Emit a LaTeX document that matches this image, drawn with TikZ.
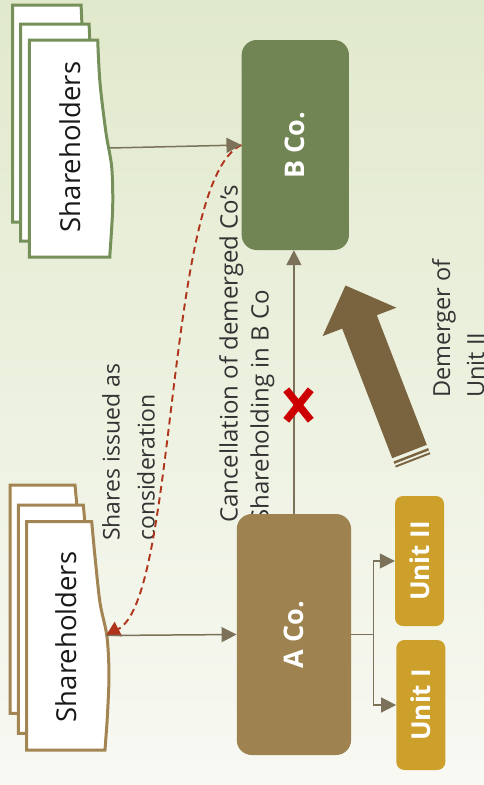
\documentclass[tikz,border=0pt]{standalone}
\usepackage{fontspec}
\setmainfont{Open Sans}
\usepackage{graphicx}
\usetikzlibrary{arrows.meta,shapes.misc}

\definecolor{bgtop}{HTML}{E1E9CC}
\definecolor{bgbot}{HTML}{F8F9F3}
\definecolor{bgreen}{HTML}{718554}
\definecolor{ggreen}{HTML}{76905A}
\definecolor{atan}{HTML}{9E8351}
\definecolor{ttan}{HTML}{A28552}
\definecolor{ugold}{HTML}{CD9F2B}
\definecolor{connc}{HTML}{7B7259}
\definecolor{dashred}{HTML}{B0341C}
\definecolor{xred}{HTML}{CC0000}
\definecolor{bigarrow}{HTML}{7A6440}
\definecolor{labelgrey}{HTML}{333333}

\tikzset{
  % shareholder sheet, wavy right edge (upper group)
  sheetA/.pic={\path[pic actions] (0,0) -- (68.4,0) -- plot[smooth] coordinates
      {(68.4,0) (70.7,43) (76.7,93) (82.4,127) (83.4,167) (80.7,213)} -- (80.5,217) -- (0,217) -- cycle;},
  % shareholder sheet, wavy right edge (lower group)
  sheetB/.pic={\path[pic actions] (0,0) -- (65,0) -- plot[smooth] coordinates
      {(65,0) (68.3,35) (73.3,81) (80.3,115) (82.3,155) (80.3,201)} -- (78.3,228.3) -- (0,228.3) -- cycle;},
}

\begin{document}
\begin{tikzpicture}[x=1pt,y=-1pt,
  company/.style={rectangle, rounded corners=15pt, inner sep=0pt, text=white,
    font=\fontsize{27}{30}\selectfont\bfseries},
  unitbox/.style={rectangle, rounded corners=8pt, fill=ugold, inner sep=0pt, text=white,
    minimum width=49pt, minimum height=130pt, font=\fontsize{26}{30}\selectfont\bfseries},
  flow/.style={draw=connc, line width=1.5pt, -{Triangle[length=15pt,width=15pt]}},
  sheet/.style={fill=white, line width=3pt, line join=miter},
  holders/.style={rotate=90, inner sep=0pt, text=black!90, font=\fontsize{27.5}{30}\selectfont},
  sidenote/.style={rotate=90, anchor=north west, align=left, inner sep=0pt, text=labelgrey},
]
\useasboundingbox (0,0) rectangle (484,785);
\shade[top color=bgtop, bottom color=bgbot] (0,0) rectangle (484,785);

% upper group of shareholders
\pic[draw=ggreen, sheet] at (12.7,5) {sheetA};
\pic[draw=ggreen, sheet] at (20.7,24) {sheetA};
\pic[draw=ggreen, sheet] at (29.3,40) {sheetA};
\node[holders] (shtop) at (70,147) {Shareholders};
\coordinate (shtopout) at (110,148);

% lower group of shareholders
\pic[draw=ttan, sheet] at (10,485) {sheetB};
\pic[draw=ttan, sheet] at (18.3,505) {sheetB};
\pic[draw=ttan, sheet] at (26.7,521.7) {sheetB};
\node[holders] (shbot) at (66,637) {Shareholders};
\coordinate (shbotout) at (106,635.5);

% side notes
\node[sidenote, font=\fontsize{23}{35}\selectfont] (sharesnote) at (102,541)
  {Shares issued as\\consideration};
\node[sidenote, font=\fontsize{24}{31}\selectfont] (cancelnote) at (219,523)
  {Cancellation of demerged Co’s\\Shareholding in B Co};
\node[sidenote, font=\fontsize{23.5}{34}\selectfont] (demergernote) at (432,398)
  {Demerger of\\Unit II};

% companies and units
\node[company, fill=bgreen, minimum width=107.3pt, minimum height=210pt] (bco) at (295.3,145)
  {\rotatebox{90}{B Co.}};
\node[company, fill=atan, minimum width=114.3pt, minimum height=241pt] (aco) at (293.9,634.5)
  {\rotatebox{90}{A Co.}};
\node[unitbox] (unit2) at (419.5,561) {\rotatebox{90}{Unit II}};
\node[unitbox] (unit1) at (420.8,705) {\rotatebox{90}{Unit I}};

% shares issued as consideration
\draw[dashred, line width=1.9pt, dash pattern=on 7pt off 4.5pt,
  -{Triangle[length=14pt,width=16pt,fill=dashred]}]
  (bco.west) .. controls (165,180) and (178,598) .. (shbotout);

% connectors
\draw[flow] (shtopout) -- (bco.west);
\draw[flow] (shbotout) -- (aco.west);
\draw[flow] (aco.north) -- (aco.north |- bco.south);
\draw[flow] (aco.east) -- ++(22,0) coordinate (fork) |- (unit2.west);
\draw[flow] (fork) |- (unit1.west);

% cancelled holding
\node[cross out, draw=xred, line width=7.5pt, inner sep=0pt, minimum width=17pt, minimum height=23pt]
  (cancel) at (298.5,405) {};

% demerger block arrow with striped tail
\fill[bigarrow] (345.5,285.5) -- (396.4,307.7) -- (376.8,315.2) -- (426.8,444.8)
  -- (392.2,458.2) -- (342.2,328.6) -- (322.6,336.1) -- cycle;
\fill[bigarrow] (393.5,461.5) -- (428.1,448.1) -- (429.0,450.4) -- (394.4,463.8) -- cycle;
\fill[bigarrow] (395.1,465.7) -- (429.7,452.3) -- (430.4,454.1) -- (395.8,467.5) -- cycle;
\end{tikzpicture}
\end{document}
